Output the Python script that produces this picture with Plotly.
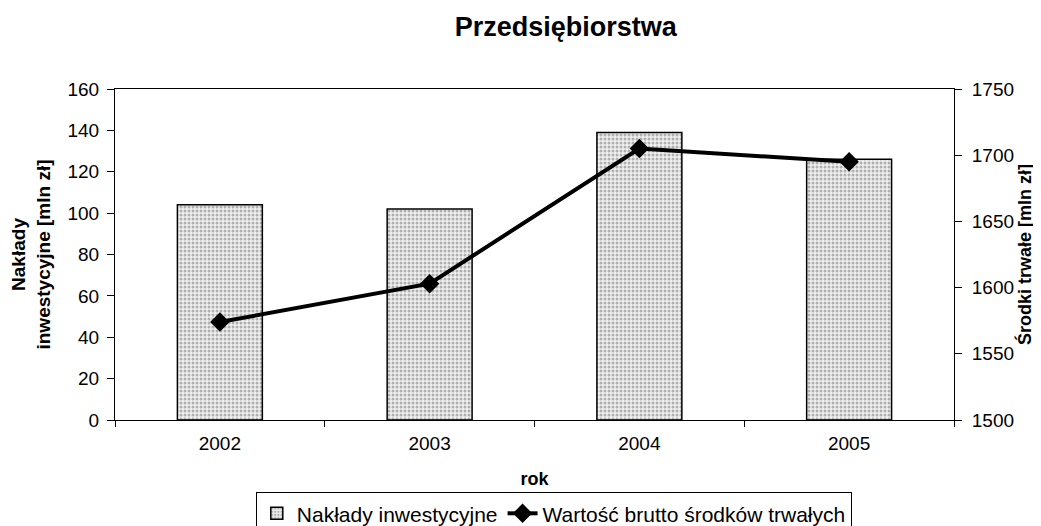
import plotly.graph_objects as go

years = ["2002", "2003", "2004", "2005"]
naklady = [104, 102, 139, 126]
wartosc = [1574, 1603, 1705, 1695]

FONT = "Liberation Sans, Arial, sans-serif"
W, H = 1033, 518

fig = go.Figure()
fig.add_trace(go.Bar(
    x=years, y=naklady, name="Nakłady inwestycyjne",
    marker=dict(color="white", line=dict(color="black", width=1.5),
                pattern=dict(shape=".", fgcolor="#6e6e6e", bgcolor="#f0f0f0", size=4, solidity=0.45)),
    yaxis="y",
))
fig.add_trace(go.Scatter(
    x=years, y=wartosc, name="Wartość brutto środków trwałych",
    mode="lines+markers", line=dict(color="black", width=4),
    marker=dict(symbol="diamond", size=15, color="black"),
    yaxis="y2",
))

fig.update_layout(
    width=W, height=H,
    margin=dict(l=107, r=87, t=81, b=106, autoexpand=False),
    paper_bgcolor="white", plot_bgcolor="white",
    font=dict(family=FONT, size=19, color="black"),
    title=dict(text="<b>Przedsiębiorstwa</b>", x=0.540, xref="container", xanchor="center",
               y=0.965, yref="container", yanchor="middle", font=dict(size=27)),
    bargap=0.595,
    showlegend=True,
    legend=dict(orientation="h", x=0.523, xref="paper", xanchor="center",
                y=-0.218, yref="paper", yanchor="top", bordercolor="black", borderwidth=1,
                font=dict(size=21), itemwidth=30, tracegroupgap=0,
                traceorder="normal"),
    xaxis=dict(type="category", showline=True, linecolor="black", linewidth=1,
               mirror=True, ticks="outside", tickson="boundaries", ticklen=6,
               tickcolor="black", showgrid=False, automargin=False,
               tickfont=dict(size=19), ticklabelstandoff=6,
               title=dict(text="<b>rok</b>", font=dict(size=18), standoff=19)),
    yaxis=dict(range=[0, 160], dtick=20, showline=True, linecolor="black", linewidth=1,
               mirror=True, ticks="outside", ticklen=7, tickcolor="black", showgrid=False,
               zeroline=False, tickfont=dict(size=19), automargin=False, ticklabelstandoff=4,
               title=dict(text="<b>Nakłady<br>inwestycyjne [mln zł]</b>", font=dict(size=19), standoff=16)),
    yaxis2=dict(range=[1500, 1750], dtick=50, overlaying="y", side="right",
                showline=True, linecolor="black", linewidth=1, ticks="outside", ticklen=7,
                tickcolor="black", showgrid=False, zeroline=False, tickfont=dict(size=19),
                automargin=False, ticklabelstandoff=6,
                title=dict(text="<b>Środki trwałe [mln zł]</b>", font=dict(size=18), standoff=5)),
)

fig.write_html("out.html")
